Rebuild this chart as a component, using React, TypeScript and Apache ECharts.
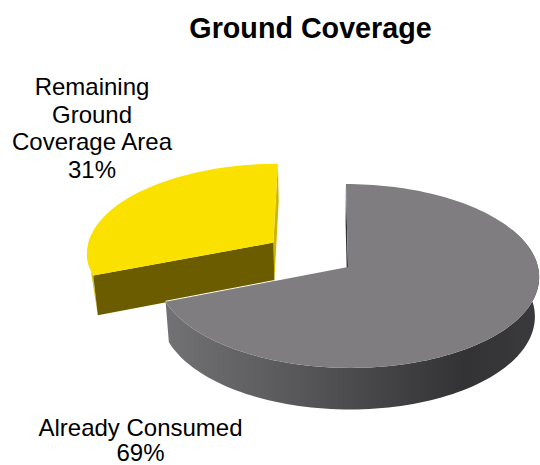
import React, { useEffect, useRef } from "react";
import * as echarts from "echarts";

const chartTitle = "Ground Coverage";
const sliceNames = ["Already Consumed", "Remaining Ground Coverage Area"];
const sliceValues = [69, 31];

// Perspective camera for the tilted pie.
const VANISH_X = 325;
const VANISH_Y = -664;
const PLANE_DIST = 931;
const RADIUS = 190;
const APEX_SHIFT = 23;
const TILT_K = 0.0978;
const DEPTH_K = 0.02;
const DEPTH_H = 59;

// Pulled-out slice offset in disc units.
const EXPLODE = [
  [0, 0],
  [-0.4, 0.275],
];

function project(X: number, Y: number, D: number): number[] {
  const w = 1 + TILT_K * Y + DEPTH_K * D;
  return [VANISH_X + (APEX_SHIFT + RADIUS * X) / w, VANISH_Y + (PLANE_DIST + DEPTH_H * D) / w];
}

function rimPoint(pct: number, off: number[], D: number): number[] {
  const a = (pct / 100) * Math.PI * 2;
  return project(Math.sin(a) + off[0], Math.cos(a) + off[1], D);
}

function arc(from: number, to: number, off: number[], D: number): number[][] {
  const pts: number[][] = [];
  const steps = Math.max(2, Math.ceil(Math.abs(to - from) * 2));
  for (let i = 0; i <= steps; i++) pts.push(rimPoint(from + ((to - from) * i) / steps, off, D));
  return pts;
}

const poly = (points: number[][], fill: any) => ({
  type: "polygon",
  shape: { points },
  style: { fill, stroke: "none" },
  silent: true,
});

const grayWall = new echarts.graphic.LinearGradient(0, 0, 1, 0, [
  { offset: 0, color: "#727174" },
  { offset: 0.35, color: "#58575a" },
  { offset: 0.62, color: "#414042" },
  { offset: 0.8, color: "#333335" },
  { offset: 1, color: "#3a3a3c" },
]);

function renderGray(start: number, end: number, off: number[]) {
  const apexTop = project(off[0], off[1], 0);
  const apexBottom = project(off[0], off[1], 1);
  const top = arc(start, end, off, 0);
  const wallFrom = 18;
  const wall = [...arc(wallFrom, end, off, 0), ...arc(end, wallFrom, off, 1)];
  const faceRight = [apexTop, rimPoint(start, off, 0), rimPoint(start, off, 1), apexBottom];
  const leftEdge = rimPoint(end, off, 0);
  // Thin light seam along the cut edge, running as far as the pulled-out slice's lower corner.
  const seamEndX = project(EXPLODE[1][0], EXPLODE[1][1], 1)[0];
  const seamT = (seamEndX - leftEdge[0]) / (apexTop[0] - leftEdge[0]);
  const seamEndY = leftEdge[1] + (apexTop[1] - leftEdge[1]) * seamT;
  return [
    poly(faceRight, "#303032"),
    poly(wall, grayWall),
    poly([apexTop, ...top], "#7f7d80"),
    {
      type: "line",
      shape: { x1: leftEdge[0], y1: leftEdge[1] - 0.5, x2: seamEndX, y2: seamEndY - 0.5 },
      style: { stroke: "#ffffff", lineWidth: 1 },
      silent: true,
    },
  ];
}

function renderYellow(start: number, end: number, off: number[]) {
  const apexTop = project(off[0], off[1], 0);
  const apexBottom = project(off[0], off[1], 1);
  const top = arc(start, end, off, 0);
  // The outer wall only shows as a sliver running from the disc's left extreme to the front corner.
  const wall = [...arc(start, start + 5, off, 0), rimPoint(start, off, 1)];
  const frontFace = [apexTop, rimPoint(start, off, 0), rimPoint(start, off, 1), apexBottom];
  const backFace = [apexTop, rimPoint(end, off, 0), rimPoint(end, off, 1), apexBottom];
  return [
    poly(wall, "#d8c300"),
    poly(backFace, "#cdb800"),
    poly(frontFace, "#6b5c00"),
    poly([apexTop, ...top], "#fae100"),
  ];
}

const sliceData = sliceValues
  .map((v, i) => ({
    value: [sliceValues.slice(0, i).reduce((s, x) => s + x, 0), v, i],
    name: sliceNames[i],
  }))
  .reverse();

const labelFont = "Liberation Sans, Arial, sans-serif";

const labelLine = (text: string, x: number, y: number, lineHeight: number) => ({
  type: "text",
  x,
  y,
  style: { text, fontFamily: labelFont, fontSize: 24, lineHeight, fill: "#000000", align: "center", verticalAlign: "middle" },
});

export default function App() {
  const ref = useRef<HTMLDivElement>(null);
  useEffect(() => {
    if (!ref.current) return;
    const chart = echarts.init(ref.current, undefined, { renderer: "svg" });
    chart.setOption({
      animation: false,
      backgroundColor: "#ffffff",
      title: {
        text: chartTitle,
        left: 305.5,
        top: 8,
        textAlign: "center",
        textStyle: { fontFamily: labelFont, fontWeight: "bold", fontSize: 28.7, color: "#000000" },
      },
      series: [
        {
          type: "custom",
          coordinateSystem: "none",
          data: sliceData,
          renderItem: (_p: any, api: any) => {
            const start = api.value(0);
            const share = api.value(1);
            const idx = api.value(2);
            const children =
              idx === 0
                ? renderGray(start, start + share, EXPLODE[idx])
                : renderYellow(start, start + share, EXPLODE[idx]);
            return { type: "group", children };
          },
        },
      ],
      graphic: [
        labelLine(`Remaining\nGround\nCoverage Area\n${sliceValues[1]}%`, 92, 128, 27.5),
        labelLine(sliceNames[0], 140.5, 427, 18),
        labelLine(`${sliceValues[0]}%`, 140.5, 452.5, 18),
      ],
    });
    return () => chart.dispose();
  }, []);
  return <div ref={ref} style={{ position: "absolute", left: 0, top: 0, width: 540, height: 465 }} />;
}
